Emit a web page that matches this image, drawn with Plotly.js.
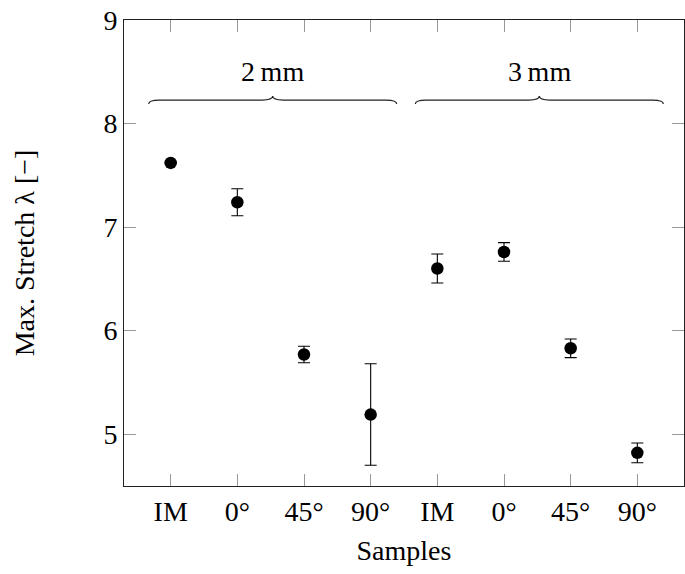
<!DOCTYPE html>
<html>
<head>
<meta charset="utf-8">
<script src="https://cdn.plot.ly/plotly-3.0.1.min.js"></script>
<style>html,body{margin:0;padding:0;background:#fff;}#chart{width:685px;height:574px;}</style>
</head>
<body>
<div id="chart"></div>
<script>
// ---- data ----
var positions = [1, 2, 3, 4, 5, 6, 7, 8];
var tickLabels = ['IM', '0°', '45°', '90°', 'IM', '0°', '45°', '90°'];
var stretchValues = [7.62, 7.24, 5.77, 5.19, 6.60, 6.76, 5.83, 4.82];
var stretchErrors = [0.0, 0.13, 0.08, 0.49, 0.14, 0.09, 0.09, 0.095];
var groupNames = ['2 mm', '3 mm'];
var groupFirst = [1, 5];
var groupLast = [4, 8];
var braceLevel = 8.227;
var labelLevel = 8.50;

var FONT = 'Liberation Serif, Times New Roman, serif';
var FS = 28;

var trace = {
  x: positions,
  y: stretchValues,
  type: 'scatter',
  mode: 'markers',
  marker: {color: '#000', size: 12.5},
  error_y: {type: 'data', array: stretchErrors, visible: true, color: '#000', thickness: 1.1, width: 6},
  showlegend: false,
  hoverinfo: 'x+y'
};

var shapes = [];
var annotations = [];
var padL = 0.33, padR = 0.39, r = 0.16, d = 0.038;
for (var i = 0; i < groupNames.length; i++) {
  var x0 = groupFirst[i] - padL, x1 = groupLast[i] + padR, xm = (x0 + x1) / 2, y = braceLevel;
  var p = 'M ' + x0 + ',' + (y - d) +
          ' Q ' + x0 + ',' + y + ' ' + (x0 + r) + ',' + y +
          ' L ' + (xm - r) + ',' + y +
          ' Q ' + xm + ',' + y + ' ' + xm + ',' + (y + d) +
          ' Q ' + xm + ',' + y + ' ' + (xm + r) + ',' + y +
          ' L ' + (x1 - r) + ',' + y +
          ' Q ' + x1 + ',' + y + ' ' + x1 + ',' + (y - d);
  shapes.push({type: 'path', xref: 'x', yref: 'y', path: p, line: {color: '#222', width: 1.2}});
  annotations.push({x: xm, y: labelLevel, xref: 'x', yref: 'y', text: groupNames[i].replace(' ', '\u2009'),
    showarrow: false, font: {family: FONT, size: FS, color: '#000'}});
}

var layout = {
  width: 685, height: 574,
  margin: {l: 124, r: 1, t: 20, b: 88},
  paper_bgcolor: '#fff', plot_bgcolor: '#fff',
  font: {family: FONT, size: FS, color: '#000'},
  xaxis: {
    range: [0.3, 8.7], tickvals: positions, ticktext: tickLabels,
    ticks: 'inside', ticklen: 12, tickcolor: '#999', tickwidth: 1,
    showline: true, linecolor: '#222', linewidth: 1, mirror: 'ticks',
    showgrid: false, zeroline: false,
    tickfont: {family: FONT, size: FS, color: '#000'},
    title: {text: 'Samples', font: {family: FONT, size: FS, color: '#000'}, standoff: 14}
  },
  yaxis: {
    range: [4.5, 9], dtick: 1, tick0: 5,
    ticks: 'inside', ticklen: 12, tickcolor: '#999', tickwidth: 1,
    showline: true, linecolor: '#222', linewidth: 1, mirror: 'ticks',
    showgrid: false, zeroline: false,
    tickfont: {family: FONT, size: FS, color: '#000'},
    title: {text: 'Max. Stretch λ [−]', font: {family: FONT, size: FS, color: '#000'}, standoff: 60}
  },
  shapes: shapes,
  annotations: annotations
};

Plotly.newPlot('chart', [trace], layout, {displayModeBar: false, staticPlot: true});
</script>
</body>
</html>
